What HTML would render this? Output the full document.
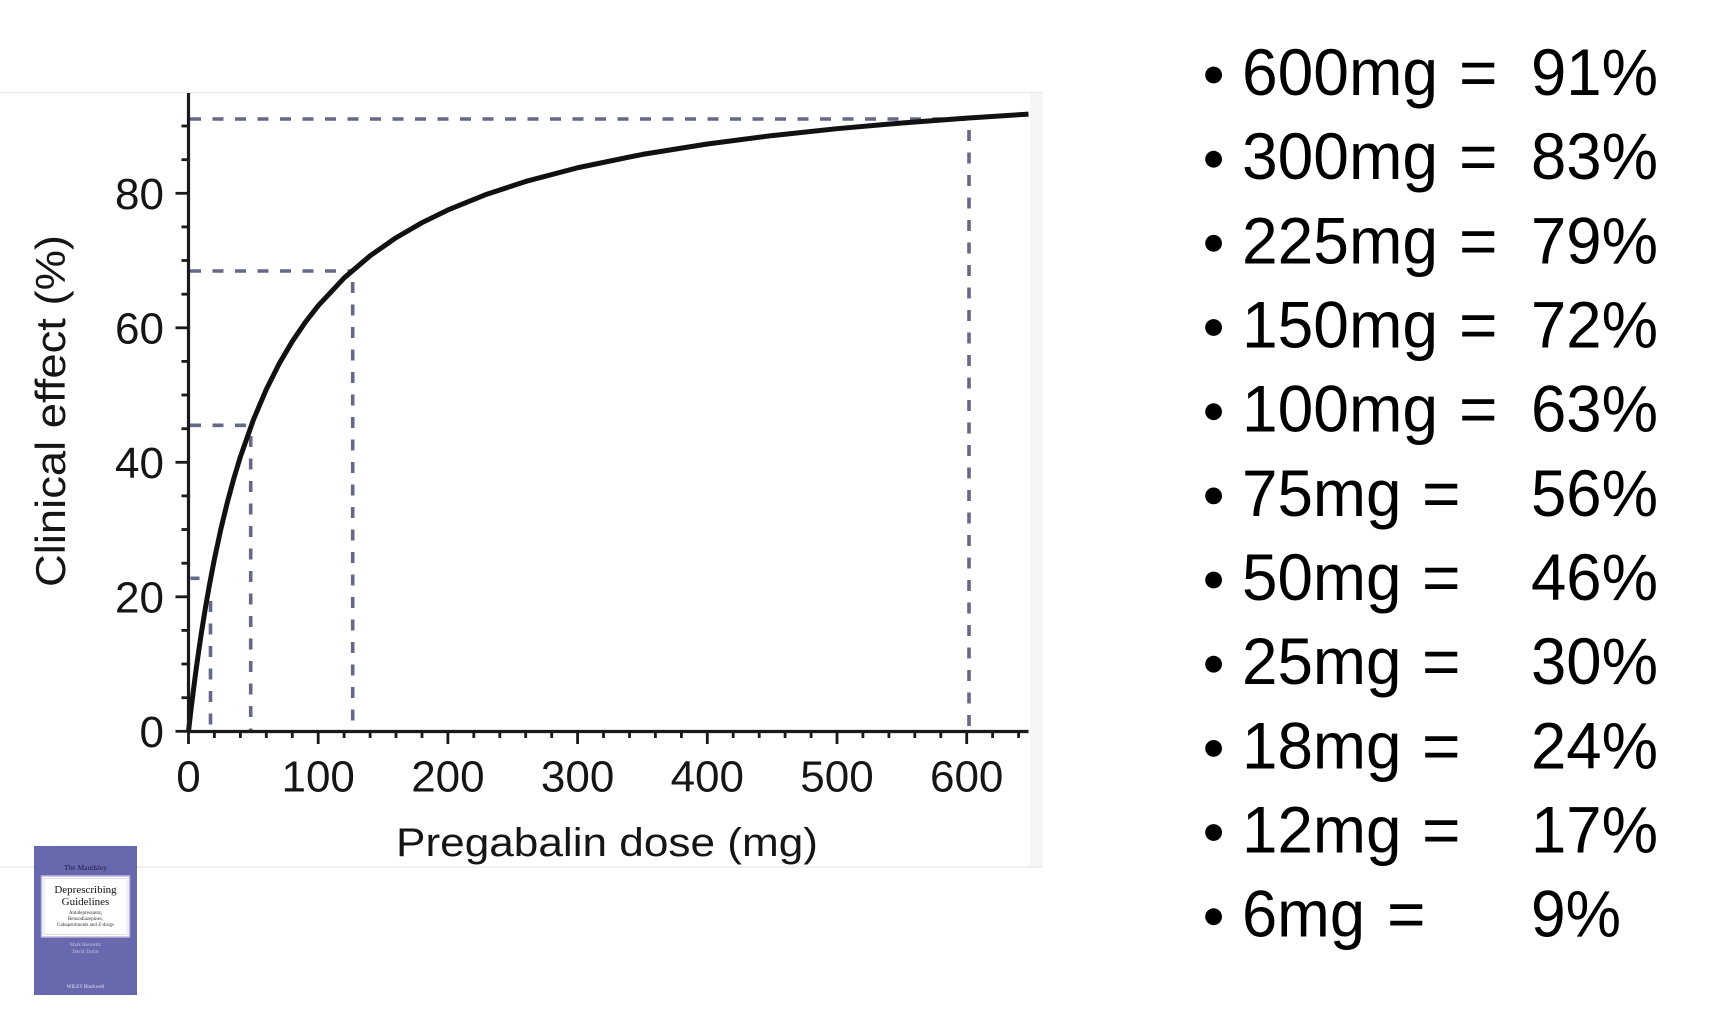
<!DOCTYPE html>
<html>
<head>
<meta charset="utf-8">
<style>
html,body{margin:0;padding:0;background:#fff;}
body{width:1715px;height:1012px;overflow:hidden;}
svg{display:block;}
text{font-family:"Liberation Sans",Arial,sans-serif;}
.serif{font-family:"Liberation Serif","Times New Roman",serif;}
</style>
</head>
<body>
<svg width="1715" height="1012" viewBox="0 0 1715 1012" xmlns="http://www.w3.org/2000/svg">
  <rect x="0" y="0" width="1715" height="1012" fill="#ffffff"/>
  <!-- chart panel -->
  <rect x="0" y="92" width="1030" height="775" fill="#ffffff"/>
  <rect x="1030" y="92" width="13" height="775" fill="#f6f6f6"/>
  <line x1="0" y1="92.5" x2="1043" y2="92.5" stroke="#ececec" stroke-width="1.5"/>
  <line x1="0" y1="867" x2="1043" y2="867" stroke="#ececec" stroke-width="1.5"/>

  <!-- dashed reference lines -->
  <g stroke="#676789" stroke-width="3.6" fill="none" stroke-dasharray="11 11.5">
    <line x1="190" y1="119" x2="969" y2="119"/>
    <line x1="969" y1="130" x2="969" y2="730"/>
    <line x1="190" y1="271" x2="352.7" y2="271"/>
    <line x1="352.7" y1="282" x2="352.7" y2="730"/>
    <line x1="190" y1="425.3" x2="250.7" y2="425.3"/>
    <line x1="250.7" y1="436" x2="250.7" y2="730"/>
    <line x1="210.5" y1="601" x2="210.5" y2="730"/>
  </g>
  <line x1="190.5" y1="578.3" x2="199.5" y2="578.3" stroke="#676789" stroke-width="3.6"/>

  <!-- curve -->
  <polyline fill="none" stroke="#111111" stroke-width="5" stroke-linejoin="round" stroke-linecap="butt"
    points="188.5,731.3 191.09,708.88 193.69,687.91 196.28,668.25 198.88,649.79 201.47,632.40 205.36,608.17 209.25,585.89 214.44,558.86 220.93,528.74 227.41,502.04 233.90,478.21 240.38,456.81 253.35,419.96 266.32,389.35 279.29,363.53 292.26,341.44 305.23,322.35 318.2,305.67 344.14,277.93 370.08,255.80 396.02,237.73 421.96,222.69 447.9,209.98 486.81,194.23 525.72,181.46 577.6,167.75 642.45,154.40 707.3,143.97 772.15,135.58 837.0,128.70 901.85,122.95 966.7,118.08 1028.5,114.1"/>

  <!-- axes -->
  <g stroke="#1a1a1a" stroke-width="3.2" fill="none">
    <line x1="188.5" y1="93" x2="188.5" y2="733"/>
    <line x1="187" y1="731.5" x2="1028.5" y2="731.5"/>
  </g>
  <!-- y ticks -->
  <g stroke="#1a1a1a" stroke-width="2.8">
    <line x1="175.5" y1="731.3" x2="188.5" y2="731.3"/>
    <line x1="175.5" y1="596.8" x2="188.5" y2="596.8"/>
    <line x1="175.5" y1="462.3" x2="188.5" y2="462.3"/>
    <line x1="175.5" y1="327.8" x2="188.5" y2="327.8"/>
    <line x1="175.5" y1="193.3" x2="188.5" y2="193.3"/>
    <line x1="181.5" y1="697.7" x2="188.5" y2="697.7"/>
    <line x1="181.5" y1="664.0" x2="188.5" y2="664.0"/>
    <line x1="181.5" y1="630.4" x2="188.5" y2="630.4"/>
    <line x1="181.5" y1="563.2" x2="188.5" y2="563.2"/>
    <line x1="181.5" y1="529.5" x2="188.5" y2="529.5"/>
    <line x1="181.5" y1="495.9" x2="188.5" y2="495.9"/>
    <line x1="181.5" y1="428.7" x2="188.5" y2="428.7"/>
    <line x1="181.5" y1="395.0" x2="188.5" y2="395.0"/>
    <line x1="181.5" y1="361.4" x2="188.5" y2="361.4"/>
    <line x1="181.5" y1="294.2" x2="188.5" y2="294.2"/>
    <line x1="181.5" y1="260.5" x2="188.5" y2="260.5"/>
    <line x1="181.5" y1="226.9" x2="188.5" y2="226.9"/>
    <line x1="181.5" y1="159.7" x2="188.5" y2="159.7"/>
    <line x1="181.5" y1="126.0" x2="188.5" y2="126.0"/>
  </g>
  <!-- x ticks -->
  <g stroke="#1a1a1a" stroke-width="2.8">
    <line x1="188.5" y1="731.5" x2="188.5" y2="744"/>
    <line x1="318.2" y1="731.5" x2="318.2" y2="744"/>
    <line x1="447.9" y1="731.5" x2="447.9" y2="744"/>
    <line x1="577.6" y1="731.5" x2="577.6" y2="744"/>
    <line x1="707.3" y1="731.5" x2="707.3" y2="744"/>
    <line x1="837.0" y1="731.5" x2="837.0" y2="744"/>
    <line x1="966.7" y1="731.5" x2="966.7" y2="744"/>
    <line x1="214.4" y1="731.5" x2="214.4" y2="738"/>
    <line x1="240.4" y1="731.5" x2="240.4" y2="738"/>
    <line x1="266.3" y1="731.5" x2="266.3" y2="738"/>
    <line x1="292.3" y1="731.5" x2="292.3" y2="738"/>
    <line x1="344.1" y1="731.5" x2="344.1" y2="738"/>
    <line x1="370.1" y1="731.5" x2="370.1" y2="738"/>
    <line x1="396.0" y1="731.5" x2="396.0" y2="738"/>
    <line x1="422.0" y1="731.5" x2="422.0" y2="738"/>
    <line x1="473.8" y1="731.5" x2="473.8" y2="738"/>
    <line x1="499.8" y1="731.5" x2="499.8" y2="738"/>
    <line x1="525.7" y1="731.5" x2="525.7" y2="738"/>
    <line x1="551.7" y1="731.5" x2="551.7" y2="738"/>
    <line x1="603.5" y1="731.5" x2="603.5" y2="738"/>
    <line x1="629.5" y1="731.5" x2="629.5" y2="738"/>
    <line x1="655.4" y1="731.5" x2="655.4" y2="738"/>
    <line x1="681.4" y1="731.5" x2="681.4" y2="738"/>
    <line x1="733.2" y1="731.5" x2="733.2" y2="738"/>
    <line x1="759.2" y1="731.5" x2="759.2" y2="738"/>
    <line x1="785.1" y1="731.5" x2="785.1" y2="738"/>
    <line x1="811.1" y1="731.5" x2="811.1" y2="738"/>
    <line x1="862.9" y1="731.5" x2="862.9" y2="738"/>
    <line x1="888.9" y1="731.5" x2="888.9" y2="738"/>
    <line x1="914.8" y1="731.5" x2="914.8" y2="738"/>
    <line x1="940.8" y1="731.5" x2="940.8" y2="738"/>
    <line x1="992.6" y1="731.5" x2="992.6" y2="738"/>
    <line x1="1018.6" y1="731.5" x2="1018.6" y2="738"/>
  </g>

  <!-- y tick labels -->
  <g font-size="44" fill="#151515" text-anchor="end">
    <text x="164" y="747">0</text>
    <text x="164" y="612.6">20</text>
    <text x="164" y="478.1">40</text>
    <text x="164" y="343.6">60</text>
    <text x="164" y="209.1">80</text>
  </g>
  <!-- x tick labels -->
  <g font-size="44" fill="#151515" text-anchor="middle">
    <text x="188.5" y="791.7">0</text>
    <text x="318.2" y="791.7">100</text>
    <text x="447.9" y="791.7">200</text>
    <text x="577.6" y="791.7">300</text>
    <text x="707.3" y="791.7">400</text>
    <text x="837.0" y="791.7">500</text>
    <text x="966.7" y="791.7">600</text>
  </g>
  <!-- axis titles -->
  <text x="396" y="856" font-size="40" fill="#151515" textLength="422" lengthAdjust="spacingAndGlyphs">Pregabalin dose (mg)</text>
  <text transform="translate(65,411) rotate(-90)" x="0" y="0" font-size="42" fill="#151515" text-anchor="middle" textLength="352" lengthAdjust="spacingAndGlyphs">Clinical effect (%)</text>

  <!-- right list -->
  <g fill="#000">
    <circle cx="1213.6" cy="75" r="8.4"/>
    <circle cx="1213.6" cy="159.2" r="8.4"/>
    <circle cx="1213.6" cy="243.3" r="8.4"/>
    <circle cx="1213.6" cy="327.5" r="8.4"/>
    <circle cx="1213.6" cy="411.7" r="8.4"/>
    <circle cx="1213.6" cy="495.9" r="8.4"/>
    <circle cx="1213.6" cy="580.0" r="8.4"/>
    <circle cx="1213.6" cy="664.2" r="8.4"/>
    <circle cx="1213.6" cy="748.4" r="8.4"/>
    <circle cx="1213.6" cy="832.5" r="8.4"/>
    <circle cx="1213.6" cy="916.7" r="8.4"/>
  </g>
  <g font-size="66" fill="#000">
    <text x="1242" y="95" textLength="196" lengthAdjust="spacingAndGlyphs">600mg</text>
    <text x="1242" y="179.2" textLength="196" lengthAdjust="spacingAndGlyphs">300mg</text>
    <text x="1242" y="263.3" textLength="196" lengthAdjust="spacingAndGlyphs">225mg</text>
    <text x="1242" y="347.5" textLength="196" lengthAdjust="spacingAndGlyphs">150mg</text>
    <text x="1242" y="431.7" textLength="196" lengthAdjust="spacingAndGlyphs">100mg</text>
    <text x="1242" y="515.9" textLength="159.5" lengthAdjust="spacingAndGlyphs">75mg</text>
    <text x="1242" y="600.0" textLength="159.5" lengthAdjust="spacingAndGlyphs">50mg</text>
    <text x="1242" y="684.2" textLength="159.5" lengthAdjust="spacingAndGlyphs">25mg</text>
    <text x="1242" y="768.4" textLength="159.5" lengthAdjust="spacingAndGlyphs">18mg</text>
    <text x="1242" y="852.5" textLength="159.5" lengthAdjust="spacingAndGlyphs">12mg</text>
    <text x="1242" y="936.7" textLength="123" lengthAdjust="spacingAndGlyphs">6mg</text>

    <text x="1459" y="95">=</text>
    <text x="1459" y="179.2">=</text>
    <text x="1459" y="263.3">=</text>
    <text x="1459" y="347.5">=</text>
    <text x="1459" y="431.7">=</text>
    <text x="1422" y="515.9">=</text>
    <text x="1422" y="600.0">=</text>
    <text x="1422" y="684.2">=</text>
    <text x="1422" y="768.4">=</text>
    <text x="1422" y="852.5">=</text>
    <text x="1387" y="936.7">=</text>

    <text x="1531" y="95" textLength="127" lengthAdjust="spacingAndGlyphs">91%</text>
    <text x="1531" y="179.2" textLength="127" lengthAdjust="spacingAndGlyphs">83%</text>
    <text x="1531" y="263.3" textLength="127" lengthAdjust="spacingAndGlyphs">79%</text>
    <text x="1531" y="347.5" textLength="127" lengthAdjust="spacingAndGlyphs">72%</text>
    <text x="1531" y="431.7" textLength="127" lengthAdjust="spacingAndGlyphs">63%</text>
    <text x="1531" y="515.9" textLength="127" lengthAdjust="spacingAndGlyphs">56%</text>
    <text x="1531" y="600.0" textLength="127" lengthAdjust="spacingAndGlyphs">46%</text>
    <text x="1531" y="684.2" textLength="127" lengthAdjust="spacingAndGlyphs">30%</text>
    <text x="1531" y="768.4" textLength="127" lengthAdjust="spacingAndGlyphs">24%</text>
    <text x="1531" y="852.5" textLength="127" lengthAdjust="spacingAndGlyphs">17%</text>
    <text x="1531" y="936.7" textLength="90" lengthAdjust="spacingAndGlyphs">9%</text>
  </g>

  <!-- book thumbnail -->
  <rect x="34" y="846" width="103" height="149" fill="#6868ae"/>
  <rect x="41.5" y="876" width="88" height="61" fill="#ffffff" stroke="#b9b9dc" stroke-width="1.5"/>
  <rect x="44" y="878.5" width="83" height="56" fill="none" stroke="#d8d8ee" stroke-width="0.8"/>
  <text class="serif" x="85.5" y="870" font-size="7.5" fill="#1d1d3a" text-anchor="middle">The Maudsley</text>
  <text class="serif" x="85.5" y="893" font-size="11" fill="#111" text-anchor="middle">Deprescribing</text>
  <text class="serif" x="85.5" y="905" font-size="11" fill="#111" text-anchor="middle">Guidelines</text>
  <text class="serif" x="85.5" y="914" font-size="5" fill="#333" text-anchor="middle">Antidepressants,</text>
  <text class="serif" x="85.5" y="920" font-size="5" fill="#333" text-anchor="middle">Benzodiazepines,</text>
  <text class="serif" x="85.5" y="926" font-size="5" fill="#333" text-anchor="middle">Gabapentinoids and Z-drugs</text>
  <text class="serif" x="85.5" y="946" font-size="5" fill="#c9c9e6" text-anchor="middle">Mark Horowitz</text>
  <text class="serif" x="85.5" y="953" font-size="5" fill="#c9c9e6" text-anchor="middle">David Taylor</text>
  <text class="serif" x="85.5" y="988" font-size="5" fill="#e6e6f4" text-anchor="middle">WILEY Blackwell</text>
</svg>
</body>
</html>
